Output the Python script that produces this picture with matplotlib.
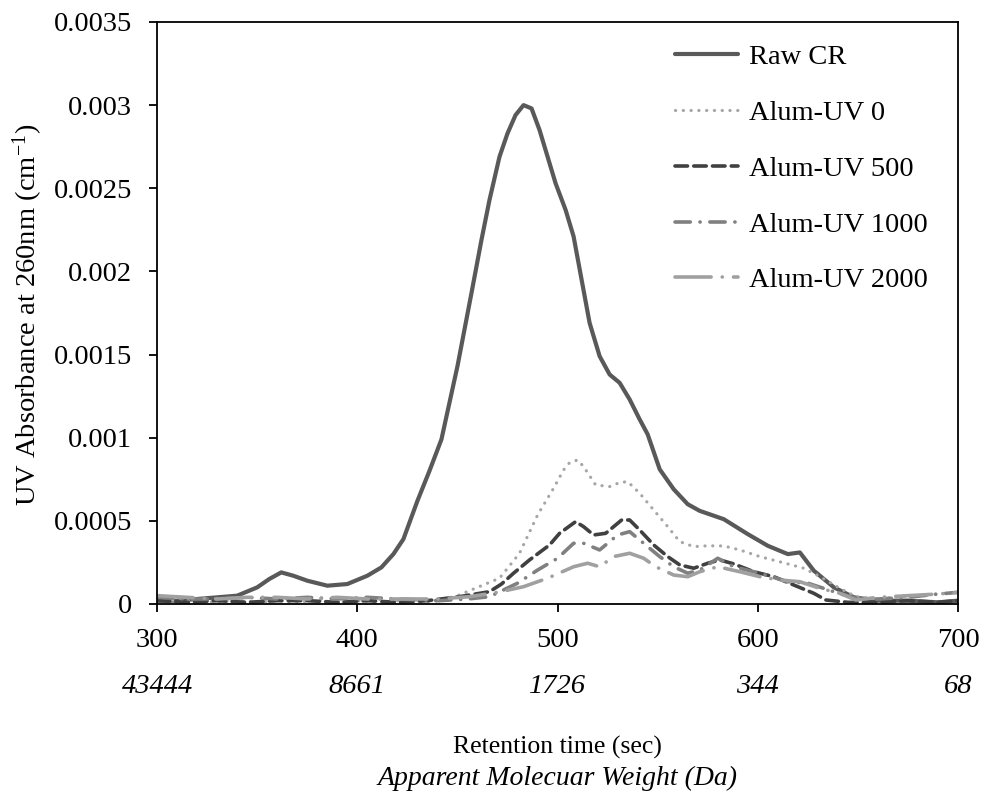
import matplotlib
matplotlib.use("Agg")
import matplotlib.pyplot as plt
from matplotlib.transforms import blended_transform_factory

plt.rcParams['font.family'] = ['Liberation Serif', 'DejaVu Serif']
plt.rcParams['lines.scale_dashes'] = False
plt.rcParams['mathtext.fontset'] = 'stix'

# ---------------- data ----------------
raw_t = [300, 310, 320, 330, 340, 350, 356, 362, 368, 375, 385, 395, 405, 412, 418, 423, 430, 436,
         442, 450, 457, 462, 466, 471, 475, 479, 483, 487, 491, 495, 499, 504, 508, 512, 516, 521,
         526, 531, 536, 541, 545, 551, 558, 565, 571, 583, 595, 605, 615, 621, 628, 638, 648, 660,
         675, 690, 700]
raw_v = [0.00002, 0.00002, 0.00003, 0.00004, 0.00005, 0.00010, 0.00015, 0.00019, 0.00017, 0.00014,
         0.00011, 0.00012, 0.00017, 0.00022, 0.00030, 0.00039, 0.00062, 0.00080, 0.00099, 0.00143,
         0.00187, 0.00219, 0.00243, 0.00269, 0.00283, 0.00294, 0.00300, 0.00298, 0.00285, 0.00269,
         0.00253, 0.00237, 0.00221, 0.00195, 0.00169, 0.00149, 0.00138, 0.00133, 0.00123, 0.00111,
         0.00102, 0.00081, 0.00069, 0.00060, 0.00056, 0.00051, 0.00042, 0.00035, 0.00030, 0.00031,
         0.00020, 0.00010, 0.00004, 0.00002, 0.00002, 0.00001, 0.00002]

uv0_t = [300, 310, 320, 330, 340, 350, 360, 370, 380, 390, 400, 410, 420, 430, 441, 450, 460, 471,
         481, 490, 498, 503, 506, 510, 513, 519, 526, 531, 535, 541, 548, 555, 561, 568, 575, 583,
         591, 601, 615, 623, 631, 641, 649, 660, 670, 680, 690, 700]
uv0_v = [0.00003, 0.00002, 0.00002, 0.00001, 0.00002, 0.00001, 0.00002, 0.00001, 0.00002, 0.00001,
         0.00002, 0.00001, 0.00002, 0.00001, 0.00002, 0.00005, 0.00010, 0.000155, 0.000305, 0.000535,
         0.000696, 0.000806, 0.00085, 0.000866, 0.000826, 0.000716, 0.000706, 0.00073, 0.000736,
         0.000666, 0.000565, 0.000465, 0.000375, 0.000345, 0.00035, 0.000349, 0.000325, 0.000285,
         0.000241, 0.000215, 0.000165, 0.000094, 0.000044, 0.00003, 0.00004, 0.00005, 0.00006, 0.00007]

uv500_t = [300, 315, 330, 345, 360, 375, 390, 405, 420, 435, 451, 466, 472, 478, 486, 496, 501, 509,
           513, 518, 524, 532, 536, 541, 548, 555, 561, 568, 575, 581, 588, 598, 608, 618, 628, 634,
           645, 660, 675, 690, 700]
uv500_v = [0.00002, 0.00001, 0.00002, 0.00001, 0.00002, 0.00002, 0.00001, 0.00002, 0.00001, 0.00002,
           0.000044, 0.000074, 0.00012, 0.000185, 0.000265, 0.000355, 0.000425, 0.000495, 0.000465,
           0.000415, 0.000425, 0.000505, 0.000505, 0.000445, 0.000355, 0.000285, 0.000235, 0.000215,
           0.000245, 0.000265, 0.000241, 0.000194, 0.000164, 0.000114, 0.000064, 0.000024, 0.00001,
           0.00001, 0.00002, 0.00001, 0.00002]

uv1000_t = [300, 315, 330, 345, 360, 375, 390, 405, 420, 441, 455, 466, 480, 490, 500, 508, 513, 521,
            530, 536, 543, 551, 558, 565, 571, 580, 588, 601, 615, 625, 638, 649, 660, 675, 690, 700]
uv1000_v = [0.00004, 0.00003, 0.00003, 0.00004, 0.00003, 0.00004, 0.00003, 0.00004, 0.00003, 0.00002,
            0.00003, 0.000044, 0.000125, 0.000204, 0.000275, 0.000365, 0.000365, 0.000325, 0.000415,
            0.000435, 0.000365, 0.000285, 0.000224, 0.000185, 0.000204, 0.000275, 0.000224, 0.000185,
            0.000134, 0.000125, 0.000074, 0.000034, 0.00003, 0.00004, 0.00006, 0.00007]

uv2000_t = [300, 315, 330, 345, 360, 375, 390, 405, 420, 440, 456, 470, 483, 495, 508, 515, 521, 528,
            536, 543, 549, 558, 565, 571, 580, 591, 601, 611, 621, 631, 641, 649, 660, 675, 690, 700]
uv2000_v = [0.00005, 0.00004, 0.00003, 0.00004, 0.00004, 0.00003, 0.00004, 0.00003, 0.00003, 0.00003,
            0.000044, 0.00007, 0.000104, 0.000155, 0.000224, 0.000245, 0.000224, 0.000285, 0.000305,
            0.000275, 0.000224, 0.000174, 0.000164, 0.000194, 0.000224, 0.000194, 0.000164, 0.000144,
            0.000134, 0.000094, 0.000064, 0.000024, 0.00004, 0.00005, 0.00006, 0.00007]

series_labels = ['Raw CR', 'Alum-UV 0', 'Alum-UV 500', 'Alum-UV 1000', 'Alum-UV 2000']
x_ticks = [300, 400, 500, 600, 700]
mw_labels = ['43444', '8661', '1726', '344', '68']
y_ticks = [0, 0.0005, 0.001, 0.0015, 0.002, 0.0025, 0.003, 0.0035]
y_tick_labels = ['0', '0.0005', '0.001', '0.0015', '0.002', '0.0025', '0.003', '0.0035']

# ---------------- plot ----------------
FS = 20.5
fig = plt.figure(figsize=(9.82, 8.02), dpi=100)
ax = fig.add_axes([0.160, 0.2469, 0.8156, 0.7257])

ax.plot(raw_t, raw_v, color='#595959', lw=3.0, solid_capstyle='round', label=series_labels[0])
ax.plot(uv0_t, uv0_v, color='#a6a6a6', lw=2.3, linestyle=(0, (0.1, 5.5)),
        dash_capstyle='round', label=series_labels[1])
ax.plot(uv500_t, uv500_v, color='#404040', lw=2.6, linestyle=(0, (9, 4.5)),
        dash_capstyle='round', label=series_labels[2])
ax.plot(uv1000_t, uv1000_v, color='#808080', lw=2.6, linestyle=(0, (11, 7, 0.1, 7)),
        dash_capstyle='round', label=series_labels[3])
ax.plot(uv2000_t, uv2000_v, color='#a0a0a0', lw=2.6, linestyle=(0, (26, 8, 0.1, 8)),
        dash_capstyle='round', label=series_labels[4])

ax.set_xlim(300, 700)
ax.set_ylim(0, 0.0035)
ax.set_xticks(x_ticks)
ax.set_xticklabels([str(t) for t in x_ticks])
ax.set_yticks(y_ticks)
ax.set_yticklabels(y_tick_labels)
ax.tick_params(direction='out', length=6, width=1.3, labelsize=FS, colors='black')
ax.tick_params(axis='y', pad=12)
ax.tick_params(axis='x', pad=11)
for s in ax.spines.values():
    s.set_linewidth(1.3)
    s.set_color('black')

tr = blended_transform_factory(ax.transData, ax.transAxes)
for t, lab in zip(x_ticks, mw_labels):
    ax.text(t, -0.141, lab, transform=tr, ha='center', va='center', fontsize=FS, style='italic')

ax.text(0.5, -0.247, 'Retention time (sec)', transform=ax.transAxes, ha='center', va='center',
        fontsize=18.5)
ax.text(0.5, -0.299, 'Apparent Molecuar Weight (Da)', transform=ax.transAxes, ha='center', va='center',
        fontsize=20, style='italic')
ax.text(-0.162, 0.497, 'UV Absorbance at 260nm (cm$^{\\mathregular{-1}}$)', transform=ax.transAxes,
        ha='center', va='center', rotation=90, fontsize=FS)

leg = ax.legend(loc='upper left', bbox_to_anchor=(0.647, 0.962), frameon=False, fontsize=FS,
                handlelength=2.2, handletextpad=0.4, labelspacing=1.05, borderpad=0, borderaxespad=0)

fig.savefig('out.png', dpi=100)
